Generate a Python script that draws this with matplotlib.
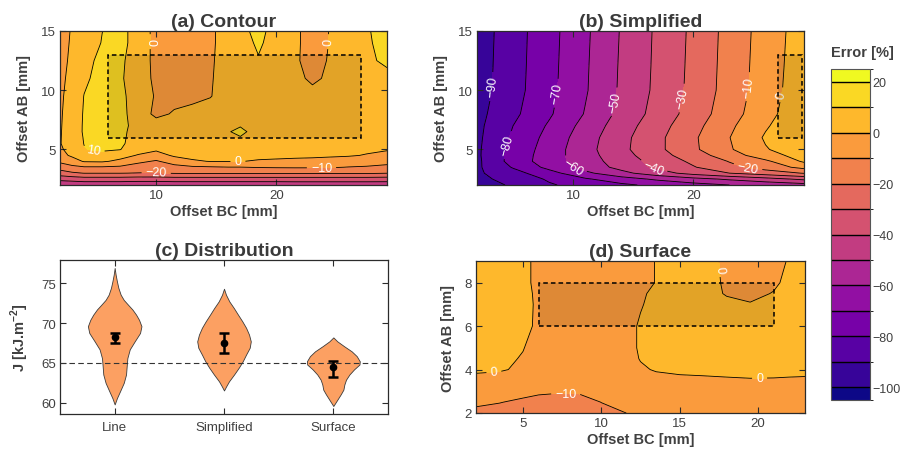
import numpy as np
import matplotlib
matplotlib.use('Agg')
import matplotlib.pyplot as plt
from matplotlib.colors import ListedColormap, BoundaryNorm
from matplotlib.patches import Rectangle

plt.rcParams['font.family'] = ['Liberation Sans', 'DejaVu Sans']
plt.rcParams['mathtext.fontset'] = 'custom'
plt.rcParams['mathtext.rm'] = 'Liberation Sans'
plt.rcParams['mathtext.bf'] = 'Liberation Sans:bold'
plt.rcParams['contour.negative_linestyle'] = 'solid'

# ---------------- data ----------------
levels = [-105, -100, -90, -80, -70, -60, -50, -40, -30, -20, -10, 0, 10, 20, 25]
cbar_ticks = [20, 0, -20, -40, -60, -80, -100]

# (a) Contour  (rows follow a_y, columns follow a_x)
a_x = [2, 3, 4, 5.5, 7, 8.5, 10, 11.5, 13, 14.5, 16, 17, 18.5, 20, 21.5, 23, 24.5, 26, 27.5, 29.2]
a_y = [2, 2.5, 3, 3.5, 4, 4.5, 5, 5.5, 6, 6.5, 7, 8, 9.5, 11, 12.5, 14, 15]
a_z = [
    [-48, -47.5, -47, -47, -47, -47.5, -47.5, -47, -47, -47, -47, -47, -47, -47, -46.5, -46.5, -46.5, -46.5, -46.5, -46.5],
    [-37.1, -35.9, -34.5, -34.5, -34.5, -35.2, -35.2, -34.5, -34.5, -34.5, -34.5, -34.5, -34.5, -34.5, -34.5, -34.5, -34.5, -34.5, -34.5, -34.8],
    [-24.4, -21.4, -19.8, -19.8, -19.8, -20.3, -20.5, -19.4, -19.2, -19.1, -19.1, -19.1, -19.0, -19.0, -19.0, -19.0, -19.0, -19.1, -19.0, -19.8],
    [-15.7, -12.5, -10.9, -10.9, -11.7, -14.4, -16.0, -13.1, -11.5, -10.9, -10.2, -10.2, -9.5, -9.2, -9.0, -9.0, -9.2, -10.3, -10.9, -12.3],
    [-8.0, -4.2, 0.8, 1.2, -2.0, -7.9, -11.0, -5.8, -1.1, 0.3, 0.3, 0.3, -0.9, -1.5, -2.1, -2.6, -3.4, -4.5, -5.5, -7.0],
    [-3.0, 1.5, 4.0, 5.3, 3.5, -0.7, -4.3, 1.5, 2.5, 3.0, 3.0, 3.0, 2.5, 2.3, 2.0, 1.8, 1.3, 0.8, -0.5, -2.6],
    [-1.0, 2.5, 9.5, 12.0, 10.3, 4.0, 1.5, 3.0, 3.5, 3.5, 3.5, 3.5, 3.5, 3.5, 3.0, 3.0, 2.5, 2.2, 1.5, 0.7],
    [-0.4, 4.0, 10.2, 14.0, 11.5, 6.0, 5.5, 5.0, 5.0, 5.0, 5.0, 5.0, 5.0, 5.0, 5.0, 5.0, 5.0, 5.0, 5.0, 5.5],
    [-0.6, 5.0, 10.5, 14.0, 12.0, 6.0, 5.0, 5.0, 5.5, 6.0, 7.0, 9.5, 6.0, 6.0, 6.0, 6.0, 6.0, 6.0, 6.0, 6.0],
    [-0.7, 4.8, 11.0, 14.0, 12.5, 6.0, 5.0, 5.0, 5.5, 6.0, 9.5, 12.0, 6.5, 6.0, 6.0, 6.0, 6.0, 6.0, 6.0, 6.0],
    [-0.8, 4.5, 11.0, 14.0, 13.0, 6.5, 5.0, 5.0, 5.5, 6.0, 7.5, 9.5, 6.5, 6.0, 6.0, 6.0, 6.0, 6.0, 6.0, 6.0],
    [-1.0, 4.0, 10.8, 14.0, 12.5, 6.0, -2.5, 1.0, 3.0, 5.0, 5.5, 6.0, 6.0, 6.0, 6.0, 6.0, 6.0, 6.0, 6.0, 6.0],
    [-1.5, 3.5, 10.2, 14.0, 12.0, 6.0, -1.0, -3.0, -2.5, -0.5, 5.0, 6.0, 6.0, 6.0, 5.5, 3.5, 5.0, 5.5, 6.0, 6.0],
    [-2.0, 2.4, 8.5, 13.0, 11.0, 6.0, -2.5, -4.0, -4.0, -1.0, 5.0, 6.0, 7.0, 6.0, 3.0, -2.0, 2.0, 5.0, 6.5, 7.7],
    [-2.5, 1.5, 7.5, 12.0, 11.5, 6.0, -3.0, -4.0, -4.0, -1.5, 5.0, 6.0, 9.3, 6.0, 1.5, -3.5, 1.0, 5.0, 8.5, 11.5],
    [-2.8, 0.9, 6.0, 10.3, 13.0, 6.0, -3.0, -4.0, -4.0, -2.0, 5.0, 6.0, 11.5, 6.0, 2.0, -4.0, 0.5, 5.0, 9.2, 12.0],
    [-3.0, 0.6, 4.0, 9.9, 13.0, 6.0, -3.0, -4.0, -4.0, -2.0, 5.0, 7.0, 13.0, 6.0, 2.0, -4.0, 0.5, 5.0, 9.5, 12.0],
]
a_label_pos = [(9.8, 14.1), (24.3, 14.1), (4.8, 4.92), (16.8, 3.98), (23.75, 3.42), (10.0, 3.0)]

# (b) Simplified
b_x = [2, 5, 8, 11, 14, 17, 20, 23, 26, 29.2]
b_y = [2, 2.5, 3, 3.5, 4, 4.5, 5, 6, 7, 8, 10, 12, 15]
b_z = [
    [-97.0, -88.0, -81.0, -76.5, -72.0, -67.5, -63.5, -60.0, -57.0, -54.0],
    [-93.0, -86.0, -78.8, -71.3, -64.4, -58.3, -53.3, -48.5, -43.8, -38.0],
    [-91.6, -83.7, -73.8, -62.3, -52.9, -44.3, -36.3, -30.0, -25.0, -19.5],
    [-91.7, -79.2, -67.2, -56.3, -46.9, -38.0, -30.7, -22.7, -15.8, -7.0],
    [-92.1, -76.0, -64.8, -54.8, -45.3, -36.4, -28.0, -19.5, -12.0, 1.5],
    [-91.7, -76.4, -65.0, -54.1, -43.7, -34.1, -24.5, -15.0, -4.0, 4.0],
    [-91.7, -77.2, -65.4, -53.6, -42.5, -32.3, -21.8, -11.1, -0.7, 6.0],
    [-92.1, -78.5, -66.8, -54.6, -43.0, -32.4, -21.5, -10.2, 1.1, 9.0],
    [-92.5, -80.0, -68.8, -56.7, -44.8, -34.1, -23.3, -11.9, -1.1, 8.5],
    [-93.1, -82.2, -71.3, -59.4, -47.1, -36.4, -25.7, -14.2, -3.4, 7.5],
    [-94.5, -83.7, -72.8, -61.0, -48.5, -37.8, -27.2, -15.8, -4.8, 6.1],
    [-94.8, -84.0, -73.1, -61.3, -48.8, -38.1, -27.5, -16.1, -5.2, 5.6],
    [-95.2, -84.3, -73.5, -61.8, -49.3, -38.4, -27.9, -16.5, -5.7, 5.0],
]
b_label_pos = [(3.37, 10.3), (4.6, 5.36), (8.76, 9.72), (9.87, 3.39), (13.6, 9.0),
               (16.6, 3.25), (19.25, 9.3), (24.5, 3.25), (24.5, 10.3), (27.4, 9.6)]

# (d) Surface
d_x = [2, 3.5, 5, 6, 7, 8.5, 10, 11.5, 12.5, 13.5, 15, 16.5, 18, 19.5, 21, 22, 23]
d_y = [2, 2.5, 3, 3.5, 4, 4.5, 5, 6, 7, 7.5, 8, 9]
d_z = [
    [-12, -13, -14, -15, -15, -14.5, -12, -10.1, -9, -8, -7, -7, -7, -7, -7, -7, -7],
    [-8.5, -9.7, -11.5, -13, -13.5, -13, -9.9, -8, -7, -6, -5.5, -5.5, -5.5, -5.5, -5.5, -5.5, -5.5],
    [-5, -6.5, -7.5, -8.5, -9, -9.2, -8.5, -7, -6, -5, -4, -4, -4, -4, -4, -4, -4],
    [-1.5, -2.5, -3.5, -4.5, -5, -5.5, -5.5, -5, -3.5, -2, -0.9, -0.6, -0.4, -0.25, -0.3, -0.4, -0.45],
    [0.8, 0.6, -1, -3, -4.5, -5.5, -5.5, -3, -0.8, 0.5, 0.8, 0.8, 0.9, 1.0, 1.0, 0.9, 0.8],
    [2, 1.3, -0.4, -3, -4.5, -5.5, -5.5, -2.5, 0.3, 1.5, 1.8, 1.8, 1.8, 1.8, 1.8, 1.8, 1.8],
    [3, 2, 0.2, -2, -4, -5.5, -5.5, -2.5, 0.8, 2, 2.5, 2.5, 2.5, 2.5, 2.5, 2.5, 2.5],
    [4, 3, 1.2, -0.8, -3.5, -5, -5, -2.5, 0.8, 2.5, 3, 3, 3, 3, 3, 3, 3],
    [4, 3, 1.5, -0.8, -4, -5, -5, -3, -0.5, 2, 3, 3, 1.5, 0.4, 1.5, 2.5, 3],
    [4, 3, 1.5, -1, -4, -5, -5, -4, -1, 1.5, 3, 2.5, -0.5, -1.5, 0.3, 2, 2.5],
    [4, 3, 1.5, -1.5, -4, -5, -5, -4, -2.5, 0.3, 3, 2, -0.7, -2, -1, 1.5, 2.5],
    [4, 3, 1.5, -1.5, -4, -5, -5, -4, -2.5, 0.3, 3, 2, -1, -3, -2, 0.5, 2],
]
d_label_pos = [(3.15, 3.8), (20.1, 3.6), (17.4, 8.6), (7.73, 2.89)]

# (c) Distribution: violin outlines (J value, half width)
c_names = ['Line', 'Simplified', 'Surface']
line_j = [59.8, 60.6, 61.45, 62.5, 63.55, 64.6, 65.6, 66.7, 67.7, 68.75, 69.6, 70.4, 71.05, 71.7, 72.3, 72.9, 73.55, 74.4, 75.2, 76.05, 76.9]
line_w = [0, 0.021, 0.049, 0.083, 0.104, 0.110, 0.116, 0.138, 0.183, 0.232, 0.245, 0.223, 0.196, 0.162, 0.122, 0.083, 0.055, 0.034, 0.021, 0.009, 0]
simp_j = [61.55, 62.1, 62.7, 63.55, 64.4, 65.2, 66.05, 66.9, 67.7, 68.55, 69.4, 70.2, 71.05, 71.9, 72.7, 73.55, 74.3]
simp_w = [0, 0.021, 0.046, 0.092, 0.135, 0.171, 0.202, 0.235, 0.245, 0.229, 0.202, 0.168, 0.128, 0.089, 0.049, 0.018, 0]
surf_j = [59.6, 60.4, 61.05, 61.65, 62.3, 62.9, 63.55, 64.2, 64.8, 65.2, 65.85, 66.45, 67.1, 67.7, 68.2]
surf_w = [0, 0.037, 0.067, 0.092, 0.101, 0.116, 0.147, 0.19, 0.239, 0.242, 0.214, 0.168, 0.098, 0.037, 0]
c_mean = [68.2, 67.5, 64.5]
c_low = [67.55, 66.3, 63.25]
c_high = [68.7, 68.7, 65.25]
c_ref = 65

# ---------------- styling ----------------
cmap = ListedColormap(plt.cm.plasma(np.linspace(0, 1, len(levels) - 1)))
norm = BoundaryNorm(levels, cmap.N)
TXT = '#404040'
SPINE = '#2b2b2b'

W, H = 902, 456
fig = plt.figure(figsize=(W / 100, H / 100), dpi=100)


def ax_px(l, t, r, b):
    return fig.add_axes([l / W, 1 - b / H, (r - l) / W, (b - t) / H])


def style(ax, title):
    ax.set_title(title, fontsize=14, fontweight='bold', color='#3a3a3a', pad=3.5)
    ax.tick_params(direction='in', top=True, right=True, length=4, width=0.8,
                   colors=SPINE, labelcolor=TXT, labelsize=9.5, pad=3)
    for s in ax.spines.values():
        s.set_color(SPINE)
        s.set_linewidth(0.9)


def contour_panel(ax, xs, ys, zs, lab_pos, rect, xticks, yticks, title):
    X, Y = np.meshgrid(xs, ys)
    Z = np.array(zs, dtype=float)
    cf = ax.contourf(X, Y, Z, levels=levels, cmap=cmap, norm=norm)
    cl = ax.contour(X, Y, Z, levels=levels, colors='k', linewidths=0.6,
                    linestyles='solid')
    ax.clabel(cl, manual=lab_pos, inline=True, fontsize=9,
              colors='white', inline_spacing=4)
    ax.add_patch(Rectangle((rect[0], rect[1]), rect[2], rect[3],
                           facecolor=(0, 0, 0, 0.11), edgecolor='k',
                           linestyle=(0, (3, 2)), linewidth=1.1, zorder=4))
    ax.set_xlim(xs[0], xs[-1])
    ax.set_ylim(ys[0], ys[-1])
    ax.set_xticks(xticks)
    ax.set_yticks(yticks)
    ax.set_xlabel('Offset BC [mm]', fontsize=10.5, fontweight='bold', color=TXT, labelpad=2)
    ax.set_ylabel('Offset AB [mm]', fontsize=10.5, fontweight='bold', color=TXT, labelpad=7)
    style(ax, title)
    return cf


axA = ax_px(60, 32, 387, 186)
axB = ax_px(477, 32, 804, 186)
axC = ax_px(60, 261, 388, 415)
axD = ax_px(476, 262, 805, 414)
cax = ax_px(831, 70, 870, 401)

cfA = contour_panel(axA, a_x, a_y, a_z, a_label_pos,
                    (6, 6, 21, 7), [10, 20], [5, 10, 15], '(a) Contour')
contour_panel(axB, b_x, b_y, b_z, b_label_pos,
              (27, 6, 2, 7), [10, 20], [5, 10, 15], '(b) Simplified')
contour_panel(axD, d_x, d_y, d_z, d_label_pos,
              (6, 6, 15, 2), [5, 10, 15, 20], [2, 4, 6, 8], '(d) Surface')

# (c) violins
profiles = [(line_j, line_w), (simp_j, simp_w), (surf_j, surf_w)]
for i, (jj, ww) in enumerate(profiles):
    pos = i + 1
    jj = np.array(jj)
    ww = np.array(ww)
    axC.fill_betweenx(jj, pos - ww, pos + ww, facecolor='#fca062',
                      edgecolor='#3a3a3a', linewidth=0.6, zorder=2)
axC.axhline(c_ref, color='#333333', linestyle=(0, (5, 3)), linewidth=0.8, zorder=3)
xs_c = np.arange(1, len(c_names) + 1)
yerr = [np.array(c_mean) - np.array(c_low), np.array(c_high) - np.array(c_mean)]
axC.errorbar(xs_c, c_mean, yerr=yerr, fmt='o', color='k', markersize=4.5,
             elinewidth=1.8, capsize=3.5, capthick=1.8, zorder=4)
axC.set_xlim(0.5, 3.5)
axC.set_ylim(58.6, 77.9)
axC.set_xticks(xs_c)
axC.set_xticklabels(c_names)
axC.set_yticks([60, 65, 70, 75])
axC.set_ylabel(r'J [kJ.m$^{\mathbf{-2}}$]', fontsize=10.5, fontweight='bold', color=TXT, labelpad=7)
style(axC, '(c) Distribution')
axC.tick_params(axis='x', pad=5)

# colorbar
cb = fig.colorbar(cfA, cax=cax, spacing='proportional', drawedges=True, ticks=cbar_ticks)
cb.dividers.set_color('k')
cb.dividers.set_linewidth(1.0)
cb.outline.set_edgecolor('#555555')
cb.outline.set_linewidth(0.8)
cax.tick_params(direction='in', length=0, width=0.8, colors=SPINE, labelcolor=TXT,
                labelsize=9, pad=2)
fig.text(831 / W, 1 - 53 / H, 'Error [%]', ha='left', va='center', fontsize=10.5,
         fontweight='bold', color=TXT)

fig.savefig('out.png', dpi=100)
